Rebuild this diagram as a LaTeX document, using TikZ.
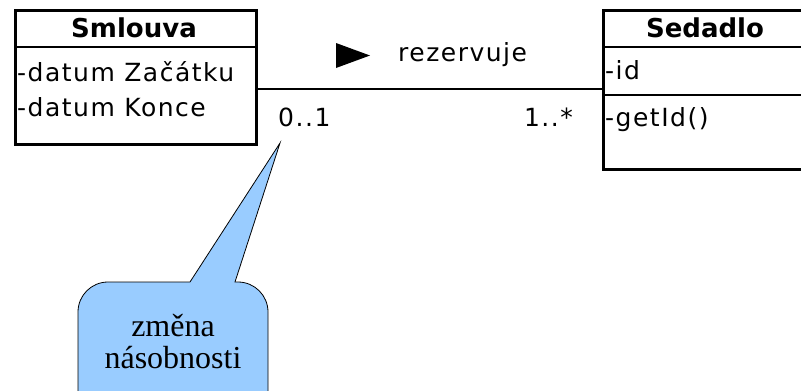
\documentclass[tikz,border=0pt]{standalone}
\usepackage{fontspec}
\setmainfont{Liberation Serif}
\newfontfamily\umlfont[LetterSpace=6]{DejaVu Sans}
\newfontfamily\umltitlefont{DejaVu Sans}
\usetikzlibrary{calc}
\definecolor{bubble}{HTML}{99CCFF}
\tikzset{
  umlbox/.style={draw=black, line width=2.5pt, rectangle, inner sep=0pt, anchor=north west},
  umlsep/.style={line width=2.5pt},
  umltitle/.style={font=\umltitlefont\fontsize{26}{30}\selectfont\bfseries, inner sep=0pt},
  umltext/.style={font=\umlfont\fontsize{25}{30}\selectfont, inner sep=0pt, anchor=west, text=black},
  assoc/.style={line width=2.5pt, draw=black},
  notetext/.style={font=\fontsize{32}{32}\selectfont, align=center, inner sep=0pt},
}
\begin{document}
\begin{tikzpicture}[x=1pt,y=-1pt]
\clip (0,0) rectangle (801,391);
\fill[white] (0,0) rectangle (801,391);
% Smlouva
\node[umlbox, minimum width=241pt, minimum height=134pt] (smlouva) at (14,9) {};
\draw[umlsep] (14,47) -- (255,47);
\node[umltitle] (smlouvaT) at (134,28) {Smlouva};
\node[umltext] (a1) at (17,72) {-datum Začátku};
\node[umltext] (a2) at (17,107) {-datum Konce};
% Sedadlo
\node[umlbox, minimum width=210pt, minimum height=159pt] (sedadlo) at (602,9) {};
\draw[umlsep] (602,47) -- (812,47);
\draw[umlsep] (602,95) -- (812,95);
\node[umltitle] (sedadloT) at (705,28) {Sedadlo};
\node[umltext] (b1) at (605,70) {-id};
\node[umltext] (b2) at (605,120) {-getId()};
% association
\coordinate (l) at ($(smlouva.north east)+(0,80)$);
\coordinate (r) at ($(sedadlo.north west)+(0,80)$);
\draw[assoc] (l) -- (r);
\fill[black] (336,43) -- (336,68) -- (370,55.5) -- cycle;
\node[umltext] (rez) at (398,55) {rezervuje};
\node[umltext] (m1) at (278,117) {0..1};
\node[umltext, anchor=east] (m2) at (573,117) {1..*};
% note bubble
\coordinate (tip) at (280,143);
\draw[fill=bubble, draw=black, line width=0.8pt]
  (78,420) -- (78,312) arc[start angle=180, end angle=270, radius=30] -- (190,282) -- (tip) -- (235,282)
  -- (238,282) arc[start angle=270, end angle=360, radius=30] -- (268,420) -- cycle;
\node[notetext] (note) at (173,342) {změna\\násobnosti};
\end{tikzpicture}
\end{document}
